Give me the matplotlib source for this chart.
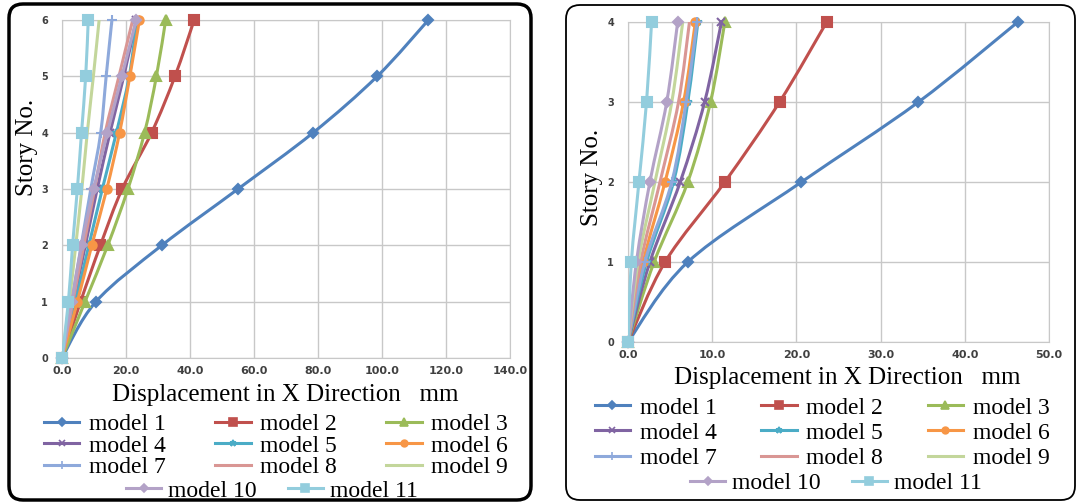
import numpy as np
import matplotlib
matplotlib.use("Agg")
import matplotlib.pyplot as plt
from matplotlib.path import Path
from matplotlib.patches import PathPatch, FancyBboxPatch
from matplotlib.lines import Line2D
from matplotlib.transforms import IdentityTransform

# datos
modelos = ["model 1", "model 2", "model 3", "model 4", "model 5", "model 6",
           "model 7", "model 8", "model 9", "model 10", "model 11"]

pisos_izq = [0, 1, 2, 3, 4, 5, 6]
desp_izq = [
    [0, 10.6, 31.2, 55.0, 78.5, 98.5, 114.5],
    [0, 5.8, 12.0, 18.8, 28.0, 35.3, 41.3],
    [0, 7.2, 14.3, 20.6, 25.8, 29.5, 32.4],
    [0, 3.6, 7.3, 11.0, 15.0, 19.3, 23.2],
    [0, 4.2, 8.4, 12.6, 17.0, 21.0, 23.4],
    [0, 4.8, 9.3, 14.0, 18.0, 21.2, 24.2],
    [0, 3.0, 6.0, 9.0, 12.1, 13.8, 15.6],
    [0, 3.4, 6.8, 10.2, 13.5, 17.8, 22.1],
    [0, 2.3, 4.3, 6.2, 7.9, 9.8, 11.6],
    [0, 3.1, 6.1, 9.9, 14.2, 18.7, 23.2],
    [0, 2.0, 3.3, 4.8, 6.1, 7.4, 8.2],
]

pisos_der = [0, 1, 2, 3, 4]
desp_der = [
    [0, 7.1, 20.6, 34.5, 46.3],
    [0, 4.4, 11.5, 18.0, 23.6],
    [0, 3.1, 7.1, 9.8, 11.5],
    [0, 2.6, 6.2, 9.1, 11.1],
    [0, 2.2, 5.4, 7.1, 8.3],
    [0, 1.8, 4.4, 6.6, 8.0],
    [0, 2.0, 5.2, 6.9, 8.2],
    [0, 1.5, 3.8, 6.0, 7.3],
    [0, 1.2, 3.2, 5.2, 6.5],
    [0, 1.0, 2.6, 4.6, 5.9],
    [0, 0.4, 1.3, 2.2, 2.8],
]

colores = ["#4F81BD", "#C0504D", "#9BBB59", "#8064A2", "#4BACC6", "#F79646",
           "#8EA9DB", "#D99694", "#C3D69B", "#B3A2C7", "#93CDDD"]
marcas = ["D", "s", "^", "x", "*", "o", "+", "_", "_", "D", "s"]
tam_marcas = [5, 7, 7, 6, 6, 6, 7, 6, 6, 5, 7]

serif = "Liberation Serif"


def curva_suave(x, y):
    # curva tipo Excel (bezier por los puntos)
    p = np.column_stack([x, y]).astype(float)
    n = len(p)
    verts = [p[0]]
    codes = [Path.MOVETO]
    for i in range(n - 1):
        p0 = p[i - 1] if i > 0 else p[i]
        p3 = p[i + 2] if i + 2 < n else p[i + 1]
        c1 = p[i] + (p[i + 1] - p0) / 6
        c2 = p[i + 1] - (p3 - p[i]) / 6
        verts += [c1, c2, p[i + 1]]
        codes += [Path.CURVE4] * 3
    return Path(verts, codes)


def dibujar(ax, pisos, desp, xmax, xpaso):
    for k in range(len(modelos)):
        pp = PathPatch(curva_suave(desp[k], pisos), facecolor="none",
                       edgecolor=colores[k], lw=2.2, zorder=3 + k)
        ax.add_patch(pp)
        if marcas[k] != "_":
            ax.plot(desp[k], pisos, linestyle="none", marker=marcas[k],
                    markersize=tam_marcas[k], color=colores[k],
                    markeredgewidth=1.5, zorder=3 + k, clip_on=False)
    ax.set_xlim(0, xmax)
    ax.set_ylim(0, pisos[-1])
    ax.set_xticks(np.arange(0, xmax + 0.1, xpaso))
    ax.set_xticklabels(["%.1f" % v for v in np.arange(0, xmax + 0.1, xpaso)])
    ax.set_yticks(pisos)
    ax.grid(True, color="#C8C8C8", lw=1)
    ax.set_axisbelow(True)
    for s in ax.spines.values():
        s.set_color("#C8C8C8")
    ax.tick_params(length=0, colors="#404040")
    for t in ax.get_xticklabels():
        t.set_fontsize(8)
        t.set_fontweight("bold")
    for t in ax.get_yticklabels():
        t.set_fontsize(7)
        t.set_fontweight("bold")


fig = plt.figure(figsize=(10.81, 5.04), dpi=100)
W, H = 1081, 504

# marcos redondeados
fig.patches.append(FancyBboxPatch((9, 504 - 500), 522, 496,
                                  boxstyle="round,pad=0,rounding_size=14",
                                  transform=IdentityTransform(), fc="none",
                                  ec="black", lw=2.5))
fig.patches.append(FancyBboxPatch((566, 504 - 500), 509, 495,
                                  boxstyle="round,pad=0,rounding_size=14",
                                  transform=IdentityTransform(), fc="none",
                                  ec="black", lw=1.3))

ax1 = fig.add_axes([62 / W, (H - 358) / H, 448 / W, 338 / H])
dibujar(ax1, pisos_izq, desp_izq, 140, 20)
ax1.tick_params(axis="x", pad=6)
ax1.tick_params(axis="y", pad=10)

ax2 = fig.add_axes([628 / W, (H - 342) / H, 421 / W, 320 / H])
dibujar(ax2, pisos_der, desp_der, 50, 10)
ax2.tick_params(axis="x", pad=6)
ax2.tick_params(axis="y", pad=10)

fig.text(285 / W, 1 - 395 / H, "Displacement in X Direction   mm",
         family=serif, fontsize=18, ha="center", va="center")
fig.text(27 / W, 1 - 147 / H, "Story No.", family=serif, fontsize=18,
         rotation=90, ha="center", va="center")
fig.text(847 / W, 1 - 378 / H, "Displacement in X Direction   mm",
         family=serif, fontsize=18, ha="center", va="center")
fig.text(592 / W, 1 - 177 / H, "Story No.", family=serif, fontsize=18,
         rotation=90, ha="center", va="center")

# leyendas
manijas = [Line2D([], [], color=colores[k], lw=2.2,
                  marker=None if marcas[k] == "_" else marcas[k],
                  markersize=tam_marcas[k] * 0.8, markeredgewidth=1.2)
           for k in range(len(modelos))]
orden = [0, 3, 6, 1, 4, 7, 2, 5, 8]


def leyenda(x, y, y2, x2, esp, colsep):
    fig.legend([manijas[i] for i in orden], [modelos[i] for i in orden],
               ncol=3, loc="center", bbox_to_anchor=(x / W, 1 - y / H),
               frameon=False, prop={"family": serif, "size": 17},
               handlelength=1.5, handletextpad=0.4, columnspacing=colsep,
               labelspacing=esp, borderpad=0)
    fig.legend(manijas[9:], modelos[9:], ncol=2, loc="center",
               bbox_to_anchor=(x2 / W, 1 - y2 / H), frameon=False,
               prop={"family": serif, "size": 17}, handlelength=1.5,
               handletextpad=0.3, columnspacing=1.3, borderpad=0)


leyenda(276, 446, 491, 272, 0.0, 2.1)
leyenda(822, 433, 483, 836, 0.15, 1.9)

fig.savefig("out.png", dpi=100)
